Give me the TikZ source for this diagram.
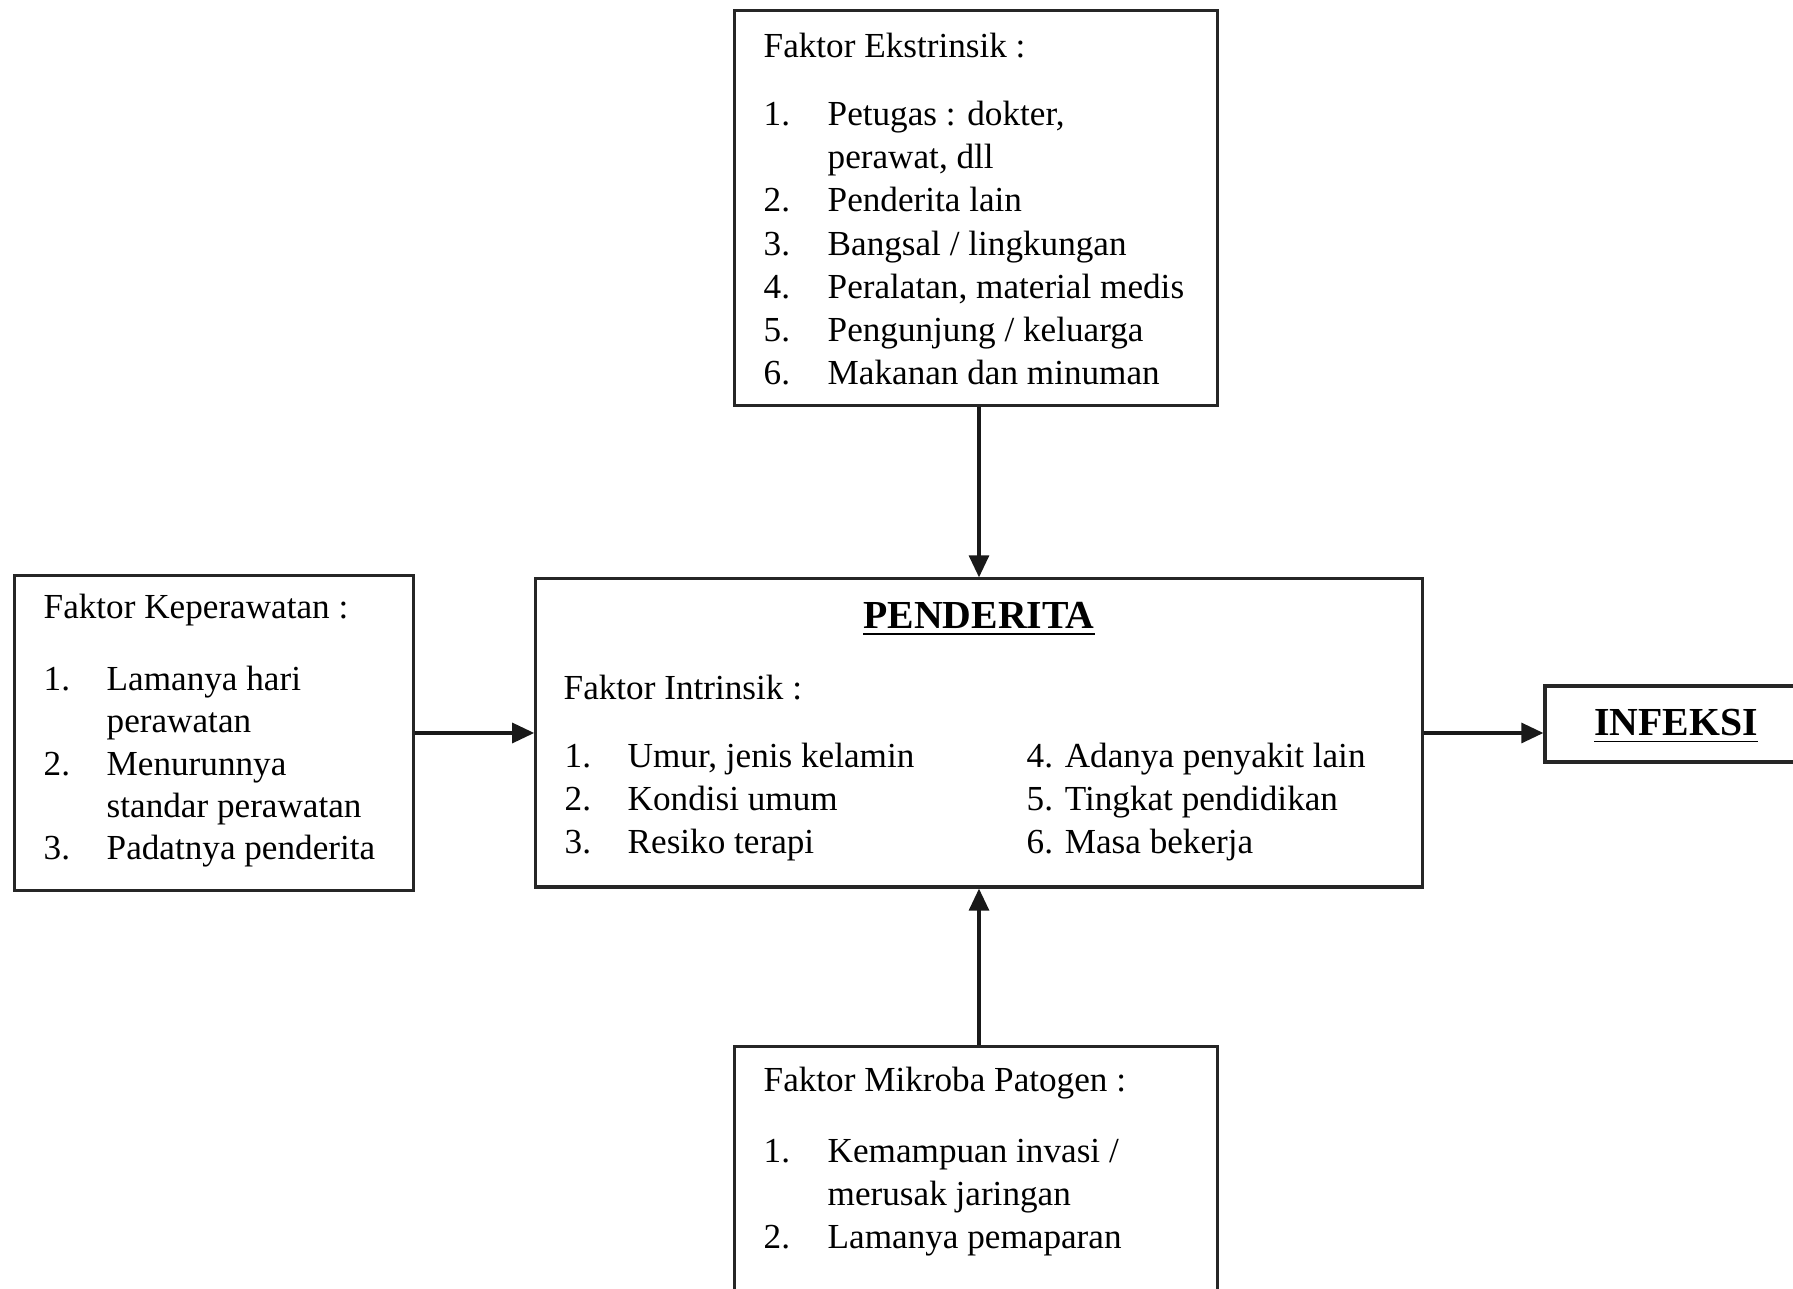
\documentclass[tikz,border=0pt]{standalone}
\usepackage{fontspec}
\setmainfont{Liberation Serif}
\usetikzlibrary{arrows.meta}

\begin{document}
\begin{tikzpicture}[x=0.01cm, y=-0.01cm, >={Triangle[length=2.2mm,width=2mm]}]
   \clip (0,0) rectangle (1793,1289);
   \fill[white] (0,0) rectangle (1793,1289);
   \fontsize{10}{12}\selectfont
   \tikzstyle{box}=[draw=black!85, line width=0.9pt, inner sep=0pt]
   \tikzstyle{txt}=[anchor=base west, inner sep=0pt]
   \tikzstyle{head}=[anchor=base, inner sep=0pt, font=\fontsize{11.3}{13}\selectfont\bfseries]
   \tikzstyle{link}=[->, line width=0.9pt, draw=black!90]
   \node[box, minimum width=4.82cm, minimum height=3.95cm] (ekstrinsik) at (976,208) {};
   \node[box, minimum width=3.99cm, minimum height=3.14cm] (keperawatan) at (214,733) {};
   \node[box, minimum width=8.86cm, minimum height=3.08cm] (penderita) at (979,733) {};
   \node[box, minimum width=2.62cm, minimum height=0.76cm] (infeksi) at (1676,724) {};
   \node[box, minimum width=4.82cm, minimum height=3.00cm] (mikroba) at (976,1197) {};
   \node[txt] (ek0) at (763,58) {Faktor Ekstrinsik :};
   \foreach \i/\y/\nr/\entry in {1/126/1./{Petugas : dokter,},2/169//{perawat, dll},
       3/212/2./{Penderita lain},4/256/3./{Bangsal / lingkungan},
       5/299/4./{Peralatan, material medis},6/342/5./{Pengunjung / keluarga},
       7/385/6./{Makanan dan minuman}} {
       \node[txt] (ekn\i) at (763,\y) {\nr};
       \node[txt] (ek\i) at (827,\y) {\entry};
   }
   \node[txt] (kp0) at (43,619) {Faktor Keperawatan :};
   \foreach \i/\y/\nr/\entry in {1/691/1./{Lamanya hari},2/733//{perawatan},
       3/776/2./{Menurunnya},4/818//{standar perawatan},5/860/3./{Padatnya penderita}} {
       \node[txt] (kpn\i) at (43,\y) {\nr};
       \node[txt] (kp\i) at (106,\y) {\entry};
   }
   \node[head] (judul) at (979,629) {\underline{PENDERITA}};
   \node[txt] (in0) at (563,700) {Faktor Intrinsik :};
   \foreach \i/\y/\nr/\entry/\lain in {1/768/1./{Umur, jenis kelamin}/{4. Adanya penyakit lain},
       2/811/2./{Kondisi umum}/{5. Tingkat pendidikan},3/854/3./{Resiko terapi}/{6. Masa bekerja}} {
       \node[txt] (inn\i) at (564,\y) {\nr};
       \node[txt] (in\i) at (627,\y) {\entry};
       \node[txt] (il\i) at (1026,\y) {\lain};
   }
   \node[head] (hasil) at (1676,736) {\underline{INFEKSI}};
   \node[txt] (mk0) at (763,1092) {Faktor Mikroba Patogen :};
   \foreach \i/\y/\nr/\entry in {1/1163/1./{Kemampuan invasi /},2/1206//{merusak jaringan},
       3/1249/2./{Lamanya pemaparan}} {
       \node[txt] (mkn\i) at (763,\y) {\nr};
       \node[txt] (mk\i) at (827,\y) {\entry};
   }
   \draw[link] (penderita.north |- ekstrinsik.south) -- (penderita.north);
   \draw[link] (penderita.west -| keperawatan.east) -- (penderita.west);
   \draw[link] (penderita.east) -- (penderita.east -| infeksi.west);
   \draw[link] (penderita.south |- mikroba.north) -- (penderita.south);
\end{tikzpicture}
\end{document}
